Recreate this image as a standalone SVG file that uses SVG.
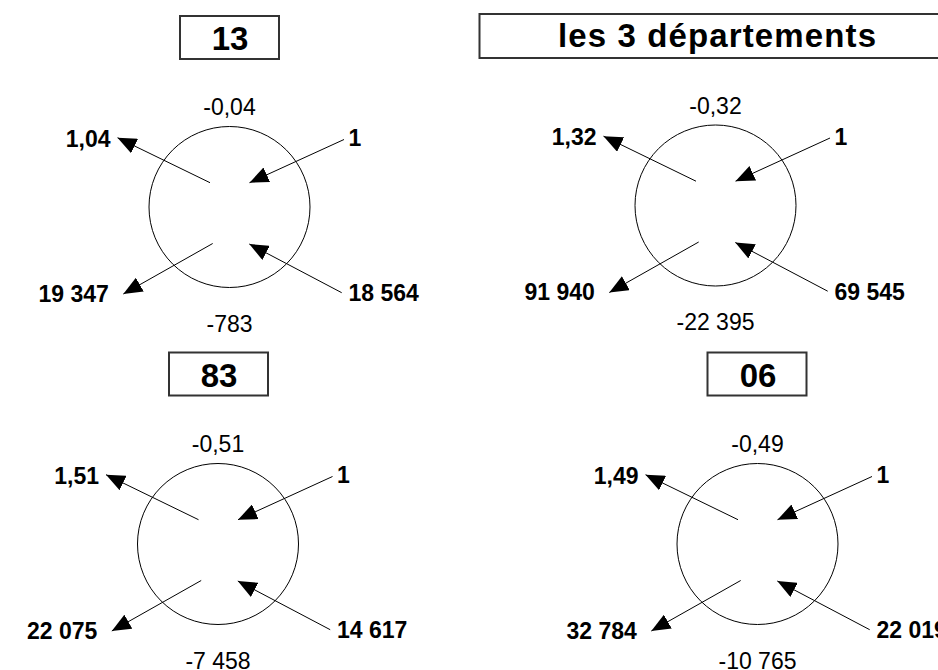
<svg xmlns="http://www.w3.org/2000/svg" width="938" height="670" viewBox="0 0 938 670">
<style>
.bg{fill:#fff}
.box{fill:#fff;stroke:#333;stroke-width:2}
.ttl{font-family:"Liberation Sans",Arial,sans-serif;font-weight:bold;font-size:33px;fill:#000;text-anchor:middle}
.ring{fill:none;stroke:#000;stroke-width:1}
.v{font-family:"Liberation Sans",Arial,sans-serif;font-weight:bold;font-size:23px;fill:#000}
.n{font-family:"Liberation Sans",Arial,sans-serif;font-size:23px;fill:#000;text-anchor:middle}
.e{text-anchor:end}
.con path{fill:none;stroke:#000;stroke-width:1;marker-end:url(#ah)}
</style>
<defs>
<marker id="ah" viewBox="0 0 19 16" refX="19" refY="8" markerWidth="19" markerHeight="16" markerUnits="userSpaceOnUse" orient="auto">
<path d="M0,0 L19,8 L0,16 Z" fill="#000" stroke="none"/>
</marker>
</defs>
<rect class="bg" x="0" y="0" width="938" height="670"/>

<!-- Panel 13 -->
<g id="title-13"><rect class="box" x="180" y="16" width="99" height="43"/><text class="ttl" x="230" y="50">13</text></g>
<g id="node-13"><circle class="ring" cx="229.5" cy="207" r="80.5"/></g>
<g id="labels-13">
<text class="n" x="229.5" y="115">-0,04</text>
<text class="v e" x="110.5" y="146.5">1,04</text>
<text class="v" x="348.5" y="146">1</text>
<text class="v e" x="108.8" y="301.5">19 347</text>
<text class="v" x="348.5" y="301">18 564</text>
<text class="n" x="229.5" y="331.5">-783</text>
</g>

<!-- Panel les 3 départements -->
<g id="title-all"><rect class="box" x="479.5" y="14" width="476" height="44"/><text class="ttl" x="717" y="47" textLength="318">les 3 départements</text></g>
<g id="node-all" transform="translate(486,-1.5)"><circle class="ring" cx="229.5" cy="207" r="80.5"/></g>
<g id="labels-all" transform="translate(486,-1.5)">
<text class="n" x="229.5" y="115">-0,32</text>
<text class="v e" x="110.5" y="146.5">1,32</text>
<text class="v" x="348.5" y="146">1</text>
<text class="v e" x="108.8" y="301.5">91 940</text>
<text class="v" x="348.5" y="301">69 545</text>
<text class="n" x="229.5" y="331.5">-22 395</text>
</g>

<!-- Panel 83 -->
<g id="title-83"><rect class="box" x="169" y="352.5" width="99" height="43"/><text class="ttl" x="219" y="386.5">83</text></g>
<g id="node-83" transform="translate(-11.5,337)"><circle class="ring" cx="229.5" cy="207" r="80.5"/></g>
<g id="labels-83" transform="translate(-11.5,337)">
<text class="n" x="229.5" y="115">-0,51</text>
<text class="v e" x="110.5" y="146.5">1,51</text>
<text class="v" x="348.5" y="146">1</text>
<text class="v e" x="108.8" y="301.5">22 075</text>
<text class="v" x="348.5" y="301">14 617</text>
<text class="n" x="229.5" y="331.5">-7 458</text>
</g>

<!-- Panel 06 -->
<g id="title-06"><rect class="box" x="707.5" y="352.5" width="99" height="43"/><text class="ttl" x="758" y="386.5">06</text></g>
<g id="node-06" transform="translate(528,337)"><circle class="ring" cx="229.5" cy="207" r="80.5"/></g>
<g id="labels-06" transform="translate(528,337)">
<text class="n" x="229.5" y="115">-0,49</text>
<text class="v e" x="110.5" y="146.5">1,49</text>
<text class="v" x="348.5" y="146">1</text>
<text class="v e" x="108.8" y="301.5">32 784</text>
<text class="v" x="348.5" y="301">22 019</text>
<text class="n" x="229.5" y="331.5">-10 765</text>
</g>

<g id="connectors" class="con">
<g id="con-13">
<path d="M344,139.5 L249.5,182.7"/>
<path d="M210,182.7 L117.5,137.7"/>
<path d="M212.7,243.5 L123.3,294"/>
<path d="M341.7,292.7 L249.3,244"/>
</g>
<g id="con-all" transform="translate(486,-1.5)">
<path d="M344,139.5 L249.5,182.7"/>
<path d="M210,182.7 L117.5,137.7"/>
<path d="M212.7,243.5 L123.3,294"/>
<path d="M341.7,292.7 L249.3,244"/>
</g>
<g id="con-83" transform="translate(-11.5,337)">
<path d="M344,139.5 L249.5,182.7"/>
<path d="M210,182.7 L117.5,137.7"/>
<path d="M212.7,243.5 L123.3,294"/>
<path d="M341.7,292.7 L249.3,244"/>
</g>
<g id="con-06" transform="translate(528,337)">
<path d="M344,139.5 L249.5,182.7"/>
<path d="M210,182.7 L117.5,137.7"/>
<path d="M212.7,243.5 L123.3,294"/>
<path d="M341.7,292.7 L249.3,244"/>
</g>
</g>
</svg>
